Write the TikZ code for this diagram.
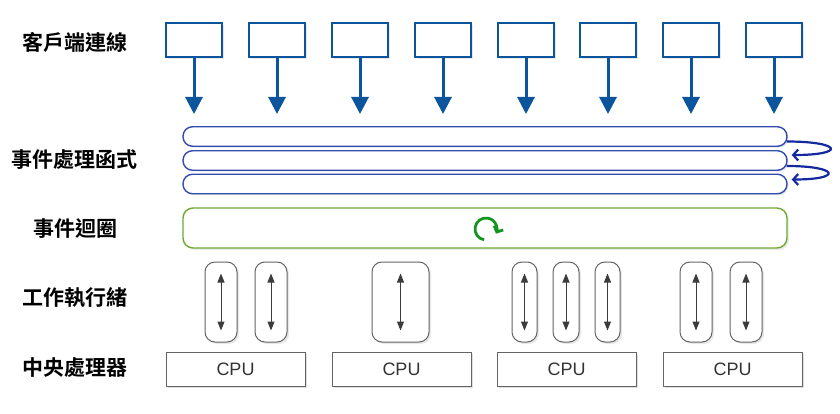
\documentclass[tikz,border=0pt]{standalone}
\usepackage{fontspec}
\setmainfont{Liberation Sans}
\newfontfamily\cjk{Noto Sans CJK TC}[BoldFont={Noto Sans CJK TC Bold}]
\usetikzlibrary{arrows.meta,shadows,calc}
\definecolor{cblue}{RGB}{12,84,156}
\definecolor{hblue}{RGB}{50,75,175}
\definecolor{lblue}{RGB}{20,40,160}
\definecolor{egreen}{RGB}{110,170,50}
\definecolor{igreen}{RGB}{20,150,30}
\definecolor{tgray}{RGB}{100,100,100}
\definecolor{agray}{RGB}{60,60,60}
\tikzset{
  lbl/.style={font=\cjk\bfseries\fontsize{21}{25}\selectfont, text=black},
  client/.style={draw=cblue, line width=1.2pt, fill=white, minimum width=56pt, minimum height=34pt, inner sep=0pt,
    drop shadow={shadow xshift=2pt, shadow yshift=-2pt, opacity=0.18}},
  carrow/.style={draw=cblue, line width=3pt, -{Triangle[length=17pt,width=17pt]}},
  handler/.style={draw=hblue, line width=1.4pt, fill=white, rounded corners=9.5pt, minimum width=604pt, minimum height=19.5pt, inner sep=0pt,
    drop shadow={shadow xshift=1.5pt, shadow yshift=-1.5pt, opacity=0.18}},
  hloop/.style={draw=lblue, line width=2.2pt, -{Straight Barb[length=5pt,width=11pt]}},
  evloop/.style={draw=egreen, line width=1.4pt, fill=white, rounded corners=10pt, minimum width=604pt, minimum height=40pt, inner sep=0pt,
    drop shadow={shadow xshift=2pt, shadow yshift=-2pt, opacity=0.15}},
  thread/.style={draw=tgray, line width=1pt, fill=white, rounded corners=10pt, minimum height=80pt, inner sep=0pt,
    drop shadow={shadow xshift=2pt, shadow yshift=-2pt, opacity=0.18}},
  tarrow/.style={draw=agray, line width=1pt, {Triangle[length=9pt,width=7pt]}-{Triangle[length=9pt,width=7pt]}},
  cpu/.style={draw=tgray, line width=1pt, fill=white, minimum width=139pt, minimum height=34pt, inner sep=0pt,
    font=\fontsize{18}{21}\selectfont, text=black!80,
    drop shadow={shadow xshift=2pt, shadow yshift=-2pt, opacity=0.25}},
}
\begin{document}
\begin{tikzpicture}[x=1pt,y=-1pt]
\useasboundingbox[fill=white] (0,0) rectangle (840,414);
% labels
\node[lbl] (l1) at (75,42) {客戶端連線};
\node[lbl] (l2) at (75,160) {事件處理函式};
\node[lbl] (l3) at (75,229) {事件迴圈};
\node[lbl] (l4) at (75,298) {工作執行緒};
\node[lbl] (l5) at (75,368) {中央處理器};
% clients
\foreach \i/\x in {1/194,2/277,3/360,4/443,5/526,6/608,7/691,8/774}{
  \node[client] (c\i) at (\x,40) {};
  \coordinate (t\i) at (\x,114);
  \draw[carrow] (c\i.south) -- (t\i);
}
% handlers
\node[handler] (h1) at (485,136.5) {};
\node[handler] (h2) at (485,160.5) {};
\node[handler] (h3) at (485,184) {};
\draw[hloop] ($(h1.east)+(-1,5)$) .. controls +(55,0) and +(55,0) .. ($(h2.east)+(4,-5.5)$);
\draw[hloop] ($(h2.east)+(-1,5.5)$) .. controls +(52,0) and +(52,0) .. ($(h3.east)+(4,-4.5)$);
% event loop
\node[evloop] (ev) at (485,228) {};
\coordinate (ic) at (486,229);
\draw[igreen, line width=2.8pt, -{Straight Barb[length=4.5pt,width=10pt]}] ($(ic)+(100:11)$) arc[start angle=100, end angle=385, radius=11];
% threads
\foreach \n/\x/\w in {a/221/32,b/271/32,c/400.5/57,d/524.5/25,e/566/26,f/607.5/25,g/696/32,h/746/32}{
  \node[thread, minimum width=\w pt] (th\n) at (\x,302) {};
  \draw[tarrow] ($(th\n.north)+(0,12)$) -- ($(th\n.south)+(0,-12)$);
}
% cpus
\node[cpu] (p1) at (235.5,369) {CPU};
\node[cpu] (p2) at (401.5,369) {CPU};
\node[cpu] (p3) at (566.5,369) {CPU};
\node[cpu] (p4) at (732.5,369) {CPU};
\end{tikzpicture}
\end{document}
